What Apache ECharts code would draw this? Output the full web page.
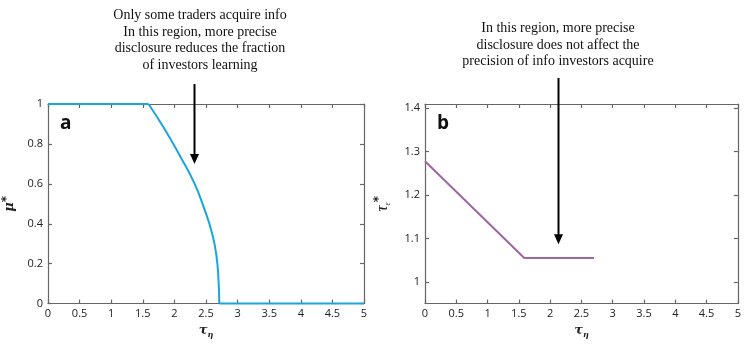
<!DOCTYPE html>
<html>
<head>
<meta charset="utf-8">
<script src="https://cdn.jsdelivr.net/npm/echarts@6/dist/echarts.min.js"></script>
<style>
html,body{margin:0;padding:0;background:#fff;}
#c{width:744px;height:344px;}
</style>
</head>
<body>
<div id="c"></div>
<script>
// ---- data ----
var xTicks = [0, 0.5, 1, 1.5, 2, 2.5, 3, 3.5, 4, 4.5, 5];
var muFlatHiTau = [0, 1.59];
var muFlatHiVal = [1, 1];
var muCurveTau = [1.59, 1.83, 2.095, 2.31, 2.465, 2.60, 2.667, 2.70, 2.71];
var muCurveVal = [1, 0.882, 0.736, 0.607, 0.482, 0.348, 0.235, 0.105, 0];
var muFlatLoTau = [2.71, 5];
var muFlatLoVal = [0, 0];
var tauTau = [0, 1.587, 2.70];
var tauVal = [1.278, 1.055, 1.055];
var tauTicks = [1, 1.1, 1.2, 1.3, 1.4];
var arrowA = [2.31, 1.10, 0.70];   // x, y from, y to (panel a)
var arrowB = [2.12, 1.47, 1.087];  // x, y from, y to (panel b)
var noteA = ['Only some traders acquire info', 'In this region, more precise', 'disclosure reduces the fraction', 'of investors learning'];
var noteB = ['In this region, more precise', 'disclosure does not affect the', 'precision of info investors acquire'];

function zip(a, b) { return a.map(function (v, i) { return [v, b[i]]; }); }

var AX = '#666';
var LAB = { color: '#222', fontFamily: 'Open Sans', fontSize: 11 };
function xAx(g, top) {
  return {
    type: 'value', gridIndex: g, min: 0, max: 5, interval: 0.5, position: top ? 'top' : 'bottom',
    axisLine: { show: true, onZero: false, lineStyle: { color: AX, width: 1.2 } },
    axisTick: { show: true, inside: true, length: 4, lineStyle: { color: AX, width: 1.2 } },
    axisLabel: top ? { show: false } : Object.assign({ margin: 5 }, LAB),
    splitLine: { show: false },
    name: top ? '' : '{t|τ}{s|η}',
    nameLocation: 'middle', nameGap: 14,
    nameTextStyle: {
      rich: {
        t: { fontFamily: 'DejaVu Serif', fontStyle: 'italic', fontWeight: 'bold', fontSize: 13, color: '#222' },
        s: { fontFamily: 'DejaVu Serif', fontStyle: 'italic', fontWeight: 'bold', fontSize: 8, color: '#222', padding: [8, 0, 0, 0] }
      }
    }
  };
}
function yAx(g, right, opt) {
  var o = {
    type: 'value', gridIndex: g, position: right ? 'right' : 'left',
    axisLine: { show: true, onZero: false, lineStyle: { color: AX, width: 1.2 } },
    axisTick: { show: true, inside: true, length: 4, lineStyle: { color: AX, width: 1.2 } },
    axisLabel: right ? { show: false } : Object.assign({ margin: 5 }, LAB),
    splitLine: { show: false }
  };
  return Object.assign(o, opt);
}

var chart = echarts.init(document.getElementById('c'), null, { renderer: 'canvas' });
var blue = { color: '#1aa6dc', width: 2 };
var option = {
  animation: false,
  backgroundColor: '#fff',
  grid: [
    { left: 48, right: 380, top: 104, bottom: 34 },
    { left: 425, right: 3, top: 104, bottom: 34 }
  ],
  xAxis: [xAx(0, false), xAx(0, true), xAx(1, false), xAx(1, true)],
  yAxis: [
    yAx(0, false, {
      min: 0, max: 1, interval: 0.2,
      name: '{m|μ}{s|*}', nameLocation: 'middle', nameGap: 29, nameRotate: 90,
      nameTextStyle: {
        rich: {
          m: { fontFamily: 'DejaVu Serif', fontStyle: 'italic', fontWeight: 'bold', fontSize: 13, color: '#222' },
          s: { fontFamily: 'DejaVu Sans', fontWeight: 'bold', fontSize: 12, color: '#222', padding: [0, 0, 6, 0] }
        }
      }
    }),
    yAx(0, true, { min: 0, max: 1, interval: 0.2 }),
    yAx(1, false, {
      min: 0.95, max: 1.41,
      axisLabel: Object.assign({ margin: 5, customValues: tauTicks }, LAB),
      axisTick: { show: true, inside: true, length: 4, customValues: tauTicks, lineStyle: { color: AX, width: 1.2 } },
      name: '{t|τ}{e|ε}{s|*}', nameLocation: 'middle', nameGap: 32, nameRotate: 90,
      nameTextStyle: {
        rich: {
          t: { fontFamily: 'Liberation Serif', fontStyle: 'italic', fontSize: 17, color: '#222' },
          e: { fontFamily: 'Liberation Serif', fontStyle: 'italic', fontSize: 8, color: '#222', padding: [10, 0, 0, 0] },
          s: { fontFamily: 'DejaVu Sans', fontWeight: 'bold', fontSize: 12, color: '#222', padding: [0, 0, 8, 0] }
        }
      }
    }),
    yAx(1, true, {
      min: 0.95, max: 1.41,
      axisTick: { show: true, inside: true, length: 4, customValues: tauTicks, lineStyle: { color: AX, width: 1.2 } }
    })
  ],
  series: [
    { type: 'line', xAxisIndex: 0, yAxisIndex: 0, data: zip(muFlatHiTau, muFlatHiVal),
      showSymbol: false, clip: false, lineStyle: blue },
    { type: 'line', xAxisIndex: 0, yAxisIndex: 0, data: zip(muCurveTau, muCurveVal),
      showSymbol: false, clip: false, smooth: 0.5, lineStyle: blue },
    { type: 'line', xAxisIndex: 0, yAxisIndex: 0, data: zip(muFlatLoTau, muFlatLoVal),
      showSymbol: false, clip: false, lineStyle: blue },
    { type: 'line', xAxisIndex: 2, yAxisIndex: 2, data: zip(tauTau, tauVal),
      showSymbol: false, clip: false, lineStyle: { color: '#a064a4', width: 2 } }
  ]
};
chart.setOption(option);

function arrow(xi, a) {
  var p1 = chart.convertToPixel({ xAxisIndex: xi, yAxisIndex: xi }, [a[0], a[1]]);
  var p2 = chart.convertToPixel({ xAxisIndex: xi, yAxisIndex: xi }, [a[0], a[2]]);
  var x = Math.round(p1[0]) + 0.5;
  return [
    { type: 'line', shape: { x1: x, y1: p1[1], x2: x, y2: p2[1] - 8 }, style: { stroke: '#000', lineWidth: 2 }, z: 50 },
    { type: 'polygon', shape: { points: [[x - 4.5, p2[1] - 10], [x + 4.5, p2[1] - 10], [x, p2[1]]] }, style: { fill: '#000' }, z: 50 }
  ];
}
var g = [];
g = g.concat(arrow(0, arrowA), arrow(2, arrowB));
g.push({
  type: 'text', z: 60,
  style: { x: 200, y: 7, text: noteA.join('\n'), textAlign: 'center', textVerticalAlign: 'top',
    font: '14px "Liberation Serif"', lineHeight: 16.7, fill: '#111' }
});
g.push({
  type: 'text', z: 60,
  style: { x: 558, y: 20, text: noteB.join('\n'), textAlign: 'center', textVerticalAlign: 'top',
    font: '14px "Liberation Serif"', lineHeight: 16.7, fill: '#111' }
});
g.push({ type: 'text', z: 60, style: { x: 60, y: 124, text: 'a', textVerticalAlign: 'middle', font: 'bold 19px "Open Sans"', fill: '#111' } });
g.push({ type: 'text', z: 60, style: { x: 437, y: 124, text: 'b', textVerticalAlign: 'middle', font: 'bold 19px "Open Sans"', fill: '#111' } });
chart.setOption({ graphic: g });
</script>
</body>
</html>
